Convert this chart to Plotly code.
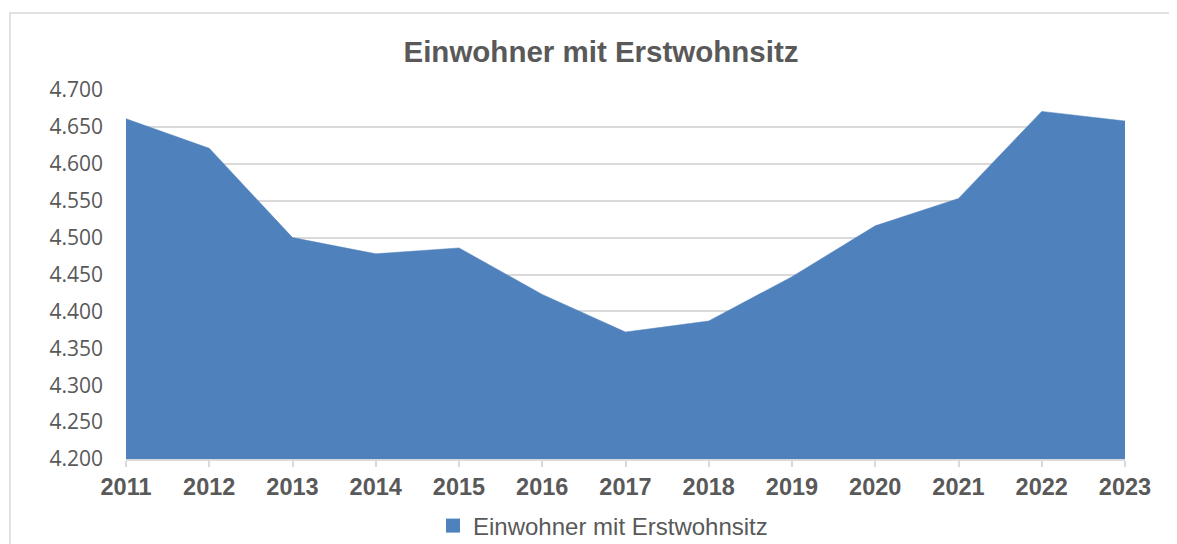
import plotly.graph_objects as go

years = [2011, 2012, 2013, 2014, 2015, 2016, 2017, 2018, 2019, 2020, 2021, 2022, 2023]
einwohner = [4661, 4621, 4500, 4478, 4486, 4423, 4372, 4387, 4447, 4516, 4553, 4671, 4658]
series_name = "Einwohner mit Erstwohnsitz"
title_text = "Einwohner mit Erstwohnsitz"
y_ticks = [4200, 4250, 4300, 4350, 4400, 4450, 4500, 4550, 4600, 4650, 4700]

# reference pixel geometry (page coordinates); the page body has an 8px margin
OFF = 8
W, H = 1177, 544
L, R, T, B = 126, 52, 90, 85
pw = W - L - R
ph = H - T - B
FW, FH = W - OFF, H - OFF

def px_x(x):
    return (x - L) / pw

def px_y(y):
    return (H - B - y) / ph

fill_color = "#4F81BD"
grey = "#595959"
grid = "#D9D9D9"

fig = go.Figure()
fig.add_trace(go.Scatter(
    x=years, y=einwohner, mode="lines", fill="tozeroy",
    fillcolor=fill_color, line=dict(color=fill_color, width=0.5),
    showlegend=False, hoverinfo="x+y",
))
fig.add_trace(go.Scatter(
    x=[None], y=[None], mode="markers", name=series_name,
    marker=dict(symbol="square", size=14, color=fill_color),
    showlegend=True,
))

fig.update_layout(
    width=FW, height=FH,
    margin=dict(l=L - OFF, r=R, t=T - OFF, b=B, autoexpand=False),
    paper_bgcolor="white", plot_bgcolor="white",
    separators=",.",
    title=dict(
        text=title_text, xref="container", yref="container",
        x=(601 - OFF) / FW, y=1 - (52 - OFF) / FH, xanchor="center", yanchor="middle",
        font=dict(family="Liberation Sans, Arial", size=29.5, color=grey, weight="bold"),
    ),
    xaxis=dict(
        range=[years[0], years[-1]], tickvals=years, ticktext=[str(y) for y in years],
        showgrid=False, zeroline=False,
        showline=True, linecolor=grid, linewidth=1.5,
        ticks="outside", ticklen=6, tickcolor=grid, tickwidth=1.5,
        ticklabelstandoff=0,
        tickfont=dict(family="Liberation Sans, Arial", size=23.5, color=grey, weight="bold"),
        fixedrange=True,
    ),
    yaxis=dict(
        range=[4200, 4700], tickvals=y_ticks, tickformat=",d",
        showgrid=True, gridcolor=grid, gridwidth=1.5,
        zeroline=False, showline=False, ticks="",
        ticklabelstandoff=22,
        tickfont=dict(family="Open Sans", size=21, color=grey),
        fixedrange=True,
    ),
    legend=dict(
        orientation="h", x=px_x(603), xanchor="center",
        y=px_y(526), yanchor="middle",
        font=dict(family="Liberation Sans, Arial", size=24, color=grey),
        bgcolor="rgba(0,0,0,0)",
    ),
    shapes=[dict(
        type="rect", xref="paper", yref="paper",
        x0=px_x(10), x1=px_x(1200), y0=px_y(580), y1=px_y(13),
        line=dict(color=grid, width=1.5), fillcolor="rgba(0,0,0,0)", layer="below",
    )],
)

fig.write_html("out.html")
